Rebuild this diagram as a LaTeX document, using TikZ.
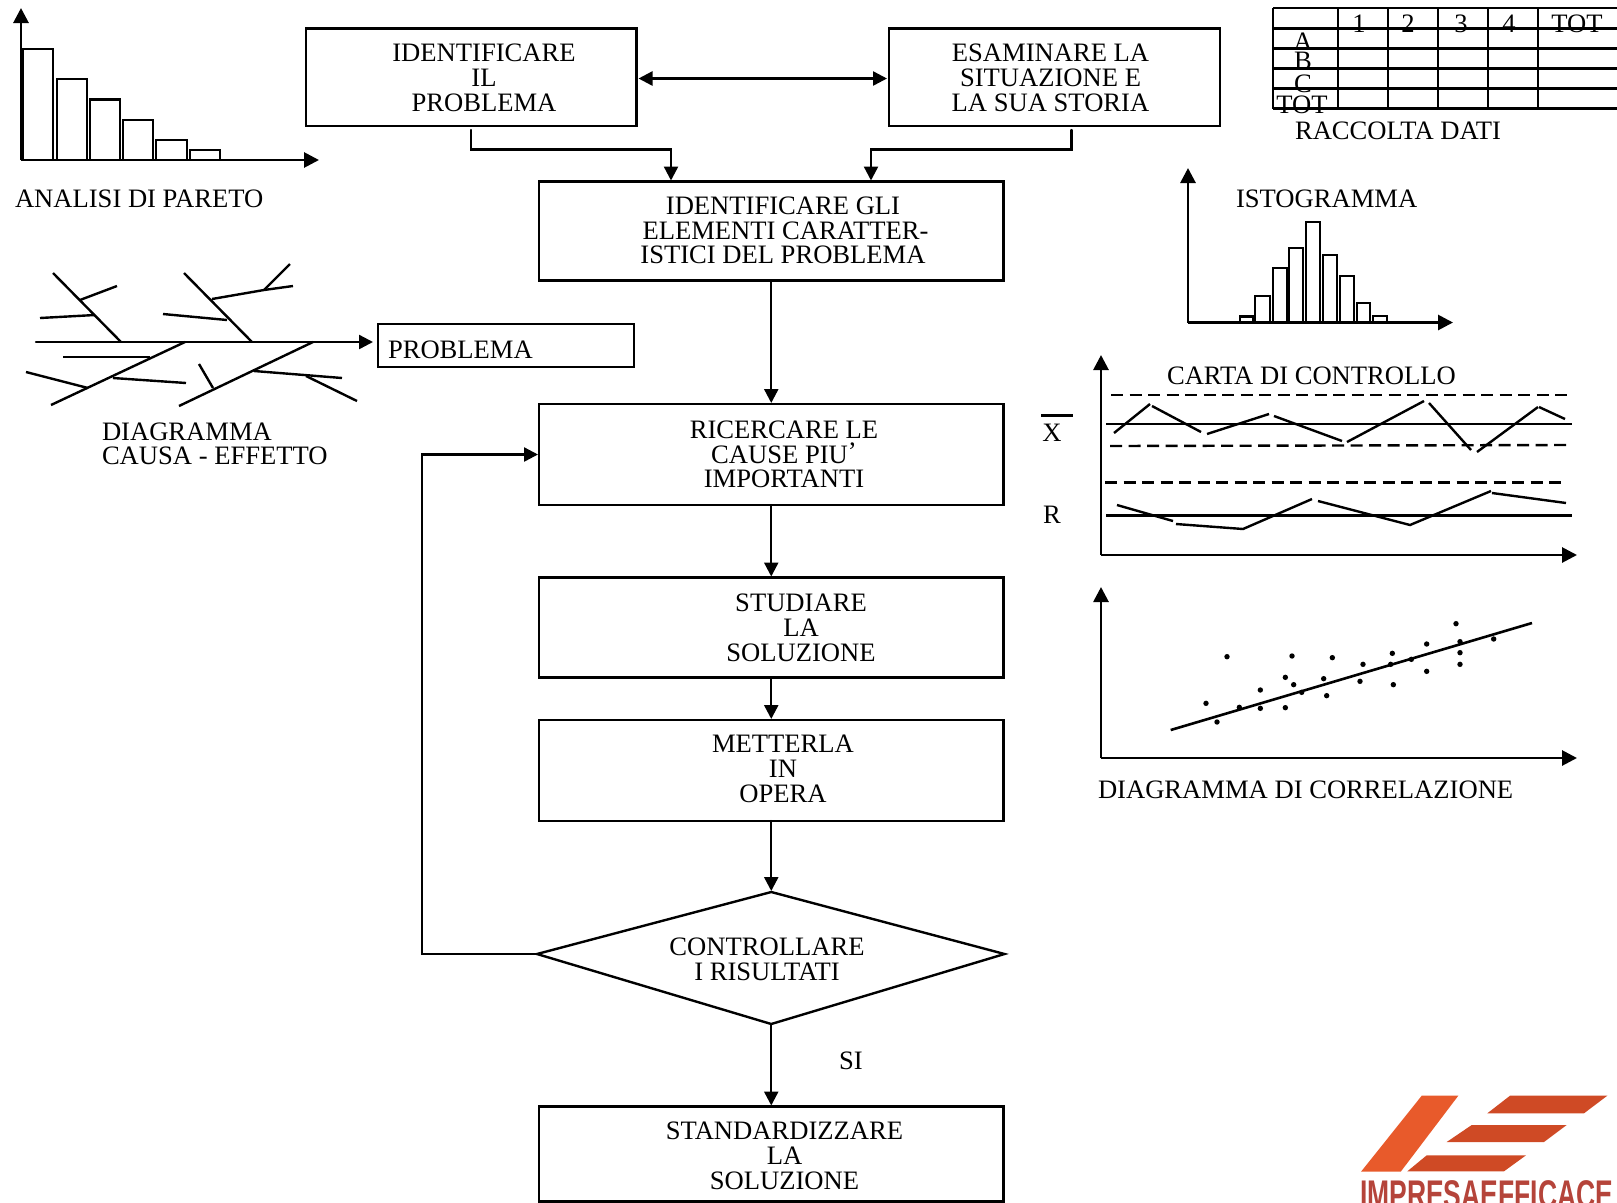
\documentclass[tikz,border=0pt]{standalone}
\usepackage{fontspec}
\setmainfont{Liberation Serif}
\newfontfamily\logofont{Liberation Sans}
\usetikzlibrary{arrows.meta,calc}
\definecolor{logoA}{HTML}{E85A2B}
\definecolor{logoB}{HTML}{CF4A25}
\definecolor{logoT}{HTML}{B5443A}
\tikzset{
  ln/.style={line width=2.4bp,line cap=round,line join=miter},
  arr/.style={ln,-{Triangle[length=14bp,width=14bp]},shorten >=1bp},
  darr/.style={ln,{Triangle[length=14bp,width=14bp]}-{Triangle[length=14bp,width=14bp]},shorten >=2bp,shorten <=2bp},
  axis/.style={line width=2.8bp,-{Triangle[length=15bp,width=15bp]}},
  box/.style={draw,line width=2.4bp,rectangle,inner sep=0pt,outer sep=0pt},
  lab/.style={inner sep=0pt,outer sep=0pt,align=center,font=\fontsize{26.6bp}{24.8bp}\selectfont},
  tag/.style={inner sep=0pt,outer sep=0pt,anchor=base west,font=\fontsize{26.6bp}{24.8bp}\selectfont},
  mid/.style={inner sep=0pt,outer sep=0pt,anchor=base,font=\fontsize{26.6bp}{24.8bp}\selectfont},
  bar/.style={draw,line width=2.4bp,fill=white},
  zig/.style={line width=2.4bp},
  dashln/.style={line width=2.4bp,dash pattern=on 12bp off 6.5bp},
}
\begin{document}
\begin{tikzpicture}[x=1bp,y=-1bp]
\useasboundingbox (0,0) rectangle (1617,1202);
% flow boxes
\node[box,minimum width=330.5bp,minimum height=97.5bp] (b1) at (471.25,77.25) {};
\node[box,minimum width=331bp,minimum height=97.5bp] (b2) at (1054.5,77.25) {};
\node[box,minimum width=464.5bp,minimum height=99bp] (b3) at (771.25,231) {};
\node[box,minimum width=464.5bp,minimum height=101bp] (b4) at (771.25,454.5) {};
\node[box,minimum width=464.5bp,minimum height=100bp] (b5) at (771.25,627.5) {};
\node[box,minimum width=464.5bp,minimum height=101bp] (b6) at (771.25,770.5) {};
\coordinate (dt) at (771.25,892);
\coordinate (db) at (771.25,1024);
\coordinate (dl) at (537,954);
\coordinate (dr) at (1004.5,954);
\draw[line width=2.4bp,line join=miter] (dl) -- (dt) -- (dr) -- (db) -- cycle;
\node[box,minimum width=464.5bp,minimum height=95bp] (b7) at (771.25,1154) {};
\node[box,minimum width=256bp,minimum height=43bp] (bp) at (506,345.5) {};
% box labels
\node[lab] (t1) at (484,78) {IDENTIFICARE\\IL\\PROBLEMA};
\node[lab] (t2) at (1050.5,78) {ESAMINARE LA\\SITUAZIONE E\\LA SUA STORIA};
\node[lab] (t3) at (783,230.5) {IDENTIFICARE GLI\\\hspace*{5bp}ELEMENTI CARATTER-\\ISTICI DEL PROBLEMA};
\node[lab] (t4) at (784,454.5) {RICERCARE LE\\CAUSE PIU\raisebox{3bp}{’}\hspace*{5bp}\\IMPORTANTI};
\node[lab] (t5) at (801,628) {STUDIARE\\LA\\SOLUZIONE};
\node[lab] (t6) at (783,769) {METTERLA\\IN\\OPERA};
\node[lab] (t7) at (767,959) {CONTROLLARE\\I RISULTATI};
\node[lab] (t8) at (784.5,1156) {STANDARDIZZARE\\LA\\SOLUZIONE};
\node[tag] (tp) at (388,358) {PROBLEMA};
\node[mid] (si) at (851,1069) {SI};
% flow connectors
\coordinate (c1) at (471,149.5);
\coordinate (c2) at (671,149.5);
\coordinate (c3) at (1071.5,149.5);
\coordinate (c4) at (871,149.5);
\coordinate (fb) at (422,454.5);
\coordinate (da) at (636,78.5);
\draw[darr] (b1.east |- da) -- (b2.west |- da);
\draw[arr,shorten <=4bp] (b1.south -| c1) -- (c1) -- (c2) -- (b3.north -| c2);
\draw[arr,shorten <=4bp] (b2.south -| c3) -- (c3) -- (c4) -- (b3.north -| c4);
\draw[arr] (b3) -- (b4);
\draw[arr] (b4) -- (b5);
\draw[arr] (b5) -- (b6);
\draw[arr] (b6) -- (dt);
\draw[arr] (db) -- (b7);
\draw[arr] (dl) -- (dl -| fb) -- (fb) -- (b4);
% Pareto
\foreach \a/\b/\t in {22.5/53/49,57/87/79,90/120/99.5,123/153/120,156/187/140,190/220/150}
  \draw[bar] (\a,160) rectangle (\b,\t);
\coordinate (po) at (21,160);
\draw[axis] (po) -- (21,8);
\draw[axis] (po) -- (319,160);
\node[tag] (tpa) at (15,207) {ANALISI DI PARETO};
% fishbone
\coordinate (sp) at (36,342);
\draw[arr,shorten >=5bp] (sp) -- (bp.west |- sp);
\foreach \p in {
  {(53,273)--(121,342)}, {(80,300)--(117,286)}, {(40,318)--(95,315)},
  {(184,273)--(252,342)}, {(212,299)--(264,290)--(293,286)}, {(264,290)--(290,264)}, {(163,314)--(227,320)},
  {(51,405)--(185,342)}, {(63,357)--(150,357)}, {(26,372)--(88,388)}, {(113,378)--(186,383)},
  {(179,406)--(313,342)}, {(199,364)--(213,388)}, {(254,371)--(342,378)}, {(306,376)--(357,401)}}
  \draw[ln,line cap=butt] \p;
\node[tag] (tca) at (102,440) {DIAGRAMMA};
\node[tag] (tcb) at (102,464) {CAUSA - EFFETTO};
% table
\foreach \y in {8,28.5,48.5,68.5,88.5,108.5} \draw[ln,line cap=butt] (1273,\y) -- (1617,\y);
\foreach \x in {1273,1338,1388,1438,1488,1538} \draw[ln,line cap=butt] (\x,8) -- (\x,108.5);
\node[mid] (h1) at (1359,32) {1};
\node[mid] (h2) at (1408,32) {2};
\node[mid] (h3) at (1461,32) {3};
\node[mid] (h4) at (1509,32) {4};
\node[mid] (h5) at (1577,32) {TOT};
\node[mid] (ra) at (1303,50) {A};
\node[mid] (rb) at (1303,69) {B};
\node[mid] (rc) at (1303,92) {C};
\node[mid] (rt) at (1302,113) {TOT};
\node[tag] (trd) at (1295,139) {RACCOLTA DATI};
% histogram
\foreach \a/\b/\t in {1240/1253/316.5,1255/1270/296,1273/1287/268,1289/1303/248,1306/1320/222,1323/1337/255,1340/1354/276,1357/1370/303,1373/1387/316}
  \draw[bar] (\a,322) rectangle (\b,\t);
\coordinate (ho) at (1188,322.5);
\draw[axis] (ho) -- (1188,168);
\draw[axis] (ho) -- (1453,322.5);
\node[tag] (tis) at (1236,207) {ISTOGRAMMA};
% control chart
\coordinate (co) at (1101,555);
\draw[axis] (co) -- (1101,355);
\draw[axis] (co) -- (1577,555);
\node[tag] (tcc) at (1167,384) {CARTA DI CONTROLLO};
\draw[dashln] (1111,395) -- (1567,395);
\draw[zig] (1106,424) -- (1572,424);
\draw[dashln] (1110,446) -- (1570,445);
\draw[dashln] (1105,482.5) -- (1564,482.5);
\draw[zig] (1106,515.5) -- (1572,515.5);
\foreach \p in {
 {(1114,433)--(1150,404)}, {(1152,406)--(1201,432)}, {(1207,434)--(1269,414)}, {(1274,416)--(1342,441)},
 {(1347,442)--(1424,401)}, {(1429,403)--(1471,450)}, {(1477,452)--(1538,407)}, {(1539,407)--(1565,419)},
 {(1117,505)--(1173,521)}, {(1176,524)--(1243,529)--(1312,499)}, {(1318,501)--(1410,525)--(1491,491)}, {(1492,493)--(1566,503)}}
  \draw[zig] \p;
\coordinate (xa) at (1041,415.5);
\coordinate (xb) at (1073,415.5);
\draw[zig] (xa) -- (xb);
\node[mid] (tx) at (1052,441) {X};
\node[mid] (tr) at (1052,523) {R};
% correlation
\coordinate (so) at (1101,758);
\draw[axis] (so) -- (1101,587);
\draw[axis] (so) -- (1577,758);
\draw[line width=2.6bp] (1170.7,730) -- (1532,623);
\foreach \a/\b in {378/370,411/426,441/230,478/382,541/330,541/385,616/292,616/383,636/228,641/314,665/337,731/296,740/347,757/233,840/304,849/253,932/253,937/220,940/314,994/238,1040/192,1040/274,1128/131,1140/185,1140/218,1140/253,1241/177}
  \fill ({1080+\a/3},{580+\b/3}) circle[radius=2.7];
\node[tag] (tdc) at (1098,798) {DIAGRAMMA DI CORRELAZIONE};
% logo
\fill[logoA] (1421.7,1095.7) -- (1458.3,1095.7) -- (1400.7,1171.7) -- (1361,1171.7) -- cycle;
\fill[logoB] (1510,1095.7) -- (1607.3,1095.7) -- (1584,1113.3) -- (1487.3,1113.3) -- cycle;
\fill[logoB] (1471.7,1125) -- (1566.7,1125) -- (1544,1142) -- (1446.7,1142) -- cycle;
\fill[logoB] (1426.7,1155.3) -- (1526,1155.3) -- (1504,1171.3) -- (1407.3,1171.3) -- cycle;
\begin{scope}
\clip (0,0) rectangle (1617,1202);
\node[inner sep=0pt,outer sep=0pt,anchor=base west,text=logoT,xscale=.662,font=\logofont\bfseries\fontsize{40bp}{40bp}\selectfont] (tlg) at (1360,1208) {IMPRESAEFFICACE};
\end{scope}
\end{tikzpicture}
\end{document}
